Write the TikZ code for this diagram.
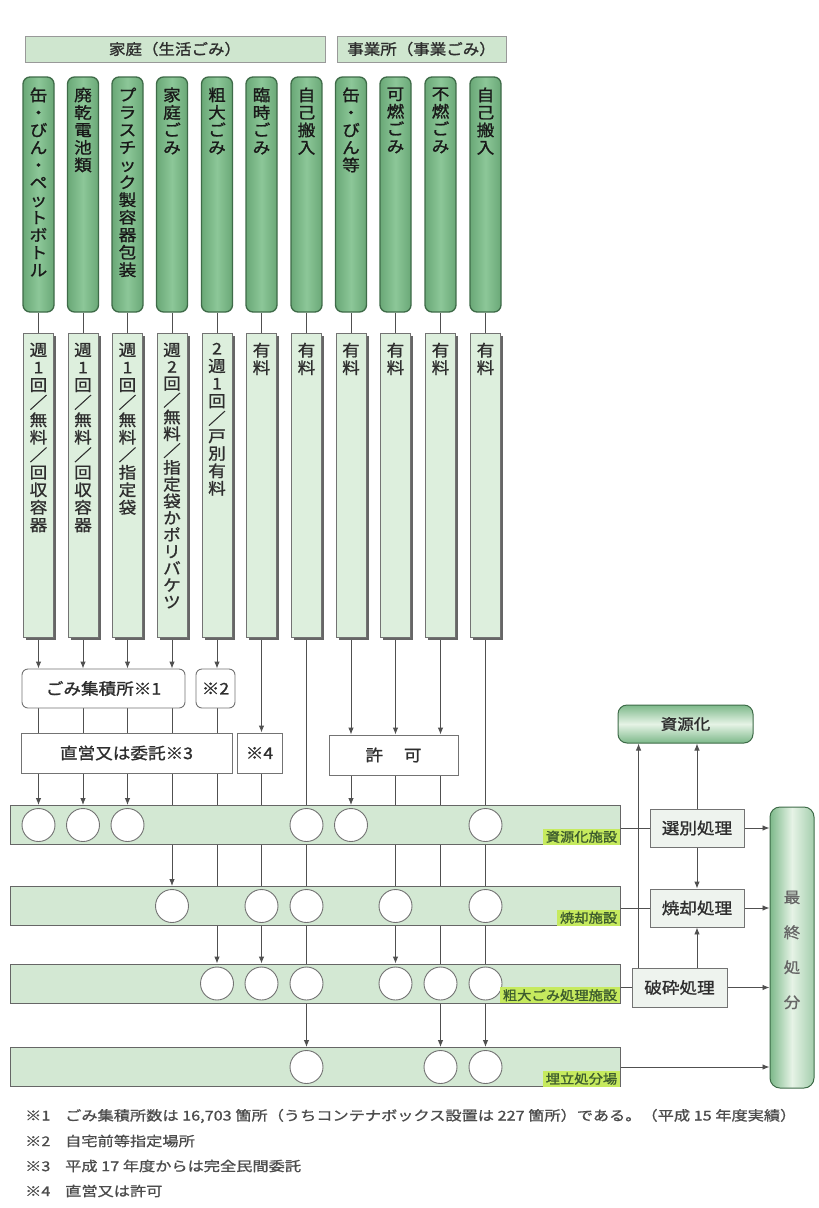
\documentclass[tikz,border=0pt]{standalone}
\usepackage{fontspec}
\setmainfont[FakeStretch=1.1,FakeBold=1.2]{Noto Sans CJK JP}
\newfontfamily\fnfont[FakeStretch=1.2,FakeBold=1]{Noto Sans CJK JP}
\usetikzlibrary{arrows.meta,shadows}
\pgfdeclarelayer{bg}
\pgfsetlayers{bg,main}
\newcommand\fsz[1]{\fontsize{#1}{#1}\selectfont}
\ExplSyntaxOn
\tl_new:N \l_vt_tl
\NewDocumentCommand\vtext{O{17.5pt}m}
 {
  \tl_set:Nx \l_vt_tl {#2}
  \vbox{\baselineskip=#1\relax\lineskiplimit=-30pt\relax\lineskip=0pt\relax
   \tl_map_inline:Nn \l_vt_tl { \hbox_to_wd:nn {1.3em} { \hss ##1 \hss } } }
 }
\ExplSyntaxOff
\definecolor{lc}{HTML}{505050}
\definecolor{tbd}{HTML}{3E6B48}
\definecolor{tbl}{HTML}{6AA877}
\definecolor{tbm}{HTML}{8CC798}
\definecolor{sbf}{HTML}{DDEFDD}
\definecolor{barf}{HTML}{D3E8D3}
\definecolor{hdrf}{HTML}{CFE6CF}
\definecolor{hlc}{HTML}{C6EA5E}
\definecolor{hlt}{HTML}{3D5C2E}
\definecolor{procf}{HTML}{EEF3EE}
\definecolor{txt}{HTML}{2E2E2E}
\definecolor{gdk}{HTML}{7DB98A}
\definecolor{glt}{HTML}{E6F3E6}
\begin{document}
\begin{tikzpicture}[x=1pt,y=-1pt,
  font=\fsz{16}, text=txt,
  ln/.style={draw=lc,line width=0.9pt},
  arr/.style={ln,-{Latex[length=7pt,width=5.5pt]}},
  hdr/.style={draw=black!40,line width=0.9pt,fill=hdrf,inner sep=0pt,font=\fsz{15}},
  topbox/.style={draw=tbd,line width=1.3pt,rounded corners=7pt,minimum width=31pt,minimum height=235pt,inner sep=0pt,left color=tbl,right color=tbl,middle color=tbm},
  secbox/.style={draw=black!55,line width=0.8pt,fill=sbf,minimum width=30pt,minimum height=304pt,inner sep=0pt,drop shadow={shadow xshift=2.5pt,shadow yshift=-2.5pt,fill=black!60,opacity=1}},
  vt/.style={anchor=north,inner sep=0pt},
  mbox/.style={draw=black!55,line width=0.9pt,fill=white,inner sep=0pt,minimum height=40pt},
  bar/.style={draw=black!60,line width=0.9pt,fill=barf,minimum width=610pt,minimum height=39pt,inner sep=0pt},
  circ/.style={circle,draw=black!55,line width=0.9pt,fill=white,minimum size=33pt,inner sep=0pt},
  hl/.style={fill=hlc,inner xsep=3pt,inner ysep=2pt,font=\fsz{13},text=hlt},
  proc/.style={draw=black!55,line width=0.9pt,fill=procf,inner sep=0pt,minimum width=94pt,minimum height=38pt},
  fn/.style={anchor=west,inner sep=0pt,font=\fnfont\fsz{13.5},text=black!70}
]
\begin{pgfonlayer}{bg}
\fill[white] (0,0) rectangle (819,1208);
\end{pgfonlayer}
\useasboundingbox (0,0) rectangle (819,1208);

% headers
\node[hdr,minimum width=300pt,minimum height=26pt] (hA) at (175,49) {家庭（生活ごみ）};
\node[hdr,minimum width=169pt,minimum height=26pt] (hB) at (421.5,49) {事業所（事業ごみ）};

% columns
\foreach \i/\x/\ta/\tb/\sp in {
 1/38.5/{缶・びん・ペットボトル}/{週1回／無料／回収容器}/17.5,
 2/83/{廃乾電池類}/{週1回／無料／回収容器}/17.5,
 3/127.5/{プラスチック製容器包装}/{週1回／無料／指定袋}/17.5,
 4/172/{家庭ごみ}/{週2回／無料／指定袋かポリバケツ}/16.8,
 5/217/{粗大ごみ}/{2週1回／戸別有料}/17.5,
 6/261.5/{臨時ごみ}/{有料}/17.5,
 7/306.5/{自己搬入}/{有料}/17.5,
 8/351/{缶・びん等}/{有料}/17.5,
 9/395.5/{可燃ごみ}/{有料}/17.5,
 10/440.5/{不燃ごみ}/{有料}/17.5,
 11/485.5/{自己搬入}/{有料}/17.5}
{
 \node[topbox] (t\i) at (\x,194.5) {};
 \node[vt,text=black!90] (tl\i) at ([yshift=-11pt]t\i.north) {\vtext{\ta}};
 \node[secbox] (s\i) at (\x,485) {};
 \node[vt] (sl\i) at ([yshift=-10pt]s\i.north) {\vtext[\sp pt]{\tb}};
 \coordinate (X\i) at (\x,0);
}

% middle boxes
\node[mbox,rounded corners=6pt,minimum width=163pt,minimum height=39pt] (shuseki) at (103.5,688.5) {ごみ集積所※1};
\node[mbox,rounded corners=6pt,minimum width=39pt,minimum height=39pt] (k2) at (215.5,688.5) {※2};
\node[mbox,minimum width=211pt] (choku) at (126.5,753) {直営又は委託※3};
\node[mbox,minimum width=45pt] (k4) at (259.5,753) {※4};
\node[mbox,minimum width=129pt] (kyoka) at (393.5,755) {許\hspace{1.3em}可};

% facility bars
\node[bar] (bar1) at (315,825) {};
\node[bar] (bar2) at (315,906) {};
\node[bar] (bar3) at (315,983.5) {};
\node[bar] (bar4) at (315,1067) {};

\foreach \c in {1,2,3,7,8,11} \node[circ] (b1c\c) at (X\c |- bar1.center) {};
\foreach \c in {4,6,7,9,11} \node[circ] (b2c\c) at (X\c |- bar2.center) {};
\foreach \c in {5,6,7,9,10,11} \node[circ] (b3c\c) at (X\c |- bar3.center) {};
\foreach \c in {7,10,11} \node[circ] (b4c\c) at (X\c |- bar4.center) {};

\node[hl,anchor=south east] (L1) at (bar1.south east) {資源化施設};
\node[hl,anchor=south east] (L2) at (bar2.south east) {焼却施設};
\node[hl,anchor=south east] (L3) at (bar3.south east) {粗大ごみ処理施設};
\node[hl,anchor=south east] (L4) at (bar4.south east) {埋立処分場};

% right side
\node[draw=tbd,line width=1pt,rounded corners=9pt,minimum width=135pt,minimum height=38pt,inner sep=0pt,top color=gdk,bottom color=gdk,middle color=glt,font=\fsz{15}] (shigenka) at (685.5,724) {資源化};
\node[proc] (senbetsu) at (697,828) {選別処理};
\node[proc] (shokyaku) at (697,908) {焼却処理};
\node[proc,minimum width=95pt,minimum height=39pt] (hasai) at (679.5,987.5) {破砕処理};
\node[draw=tbd,line width=1pt,rounded corners=10pt,minimum width=44pt,minimum height=281pt,inner sep=0pt,left color=gdk,right color=gdk!70,middle color=glt] (saishu) at (792,947.5) {};
\node[inner sep=0pt,text=black!60,font=\fsz{15}] (saishuL) at (792,950) {\vtext[35pt]{最終処分}};
\coordinate (hup) at ([xshift=7pt]hasai.north west);

% footnotes
\node[fn] (f1) at (25,1116) {\makebox[40pt][l]{※1}ごみ集積所数は 16,703 箇所（うちコンテナボックス設置は 227 箇所）である。（平成 15 年度実績）};
\node[fn] (f2) at (25,1141) {\makebox[40pt][l]{※2}自宅前等指定場所};
\node[fn] (f3) at (25,1166) {\makebox[40pt][l]{※3}平成 17 年度からは完全民間委託};
\node[fn] (f4) at (25,1191) {\makebox[40pt][l]{※4}直営又は許可};

% connectors
\begin{pgfonlayer}{bg}
\foreach \i in {1,...,11} \draw[ln] (t\i.south) -- (s\i.north);
\foreach \i in {1,...,4} {
  \draw[arr] (s\i.south) -- (s\i.south |- shuseki.north);
  \draw[ln] (s\i.south |- shuseki.south) -- (s\i.south |- choku.north);
}
\draw[arr] (s5.south) -- (s5.south |- k2.north);
\draw[ln] (s5.south |- k2.south) -- (s5.south |- choku.north);
\draw[arr] (s6.south) -- (s6.south |- k4.north);
\draw[ln] (s7.south) -- (b1c7);
\foreach \i in {8,9,10} \draw[arr] (s\i.south) -- (s\i.south |- kyoka.north);
\draw[ln] (s11.south) -- (b1c11);
\foreach \i in {1,2,3} \draw[arr] (b1c\i |- choku.south) -- (b1c\i |- bar1.north);
\draw[arr] (b2c4 |- choku.south) -- (b2c4 |- bar2.north);
\draw[arr] (b3c5 |- choku.south) -- (b3c5 |- bar3.north);
\draw[ln] (b2c6 |- k4.south) -- (b2c6);
\draw[arr] (b1c8 |- kyoka.south) -- (b1c8 |- bar1.north);
\draw[ln] (b2c9 |- kyoka.south) -- (b2c9);
\draw[ln] (b3c10 |- kyoka.south) -- (b3c10);
\draw[ln] (b1c7) -- (b2c7);
\draw[ln] (b2c7) -- (b3c7);
\draw[arr] (b3c7) -- (b4c7 |- bar4.north);
\draw[arr] (b2c6) -- (b3c6 |- bar3.north);
\draw[arr] (b2c9) -- (b3c9 |- bar3.north);
\draw[arr] (b3c10) -- (b4c10 |- bar4.north);
\draw[ln] (b1c11) -- (b2c11);
\draw[ln] (b2c11) -- (b3c11);
\draw[arr] (b3c11) -- (b4c11 |- bar4.north);
% right side
\draw[ln] (bar1.east |- senbetsu.west) -- (senbetsu.west);
\draw[ln] (bar2.east |- shokyaku.west) -- (shokyaku.west);
\draw[ln] (bar3.east |- hasai.west) -- (hasai.west);
\draw[arr] (senbetsu.east) -- (senbetsu.east -| saishu.west);
\draw[arr] (shokyaku.east) -- (shokyaku.east -| saishu.west);
\draw[arr] (hasai.east) -- (hasai.east -| saishu.west);
\draw[arr] (bar4.east) -- (bar4.east -| saishu.west);
\draw[arr] (senbetsu.north) -- (senbetsu.north |- shigenka.south);
\draw[arr] (hup) -- (hup |- shigenka.south);
\draw[arr] (senbetsu.south) -- (shokyaku.north);
\draw[arr] (shokyaku.south |- hasai.north) -- (shokyaku.south);
\end{pgfonlayer}
\end{tikzpicture}
\end{document}
